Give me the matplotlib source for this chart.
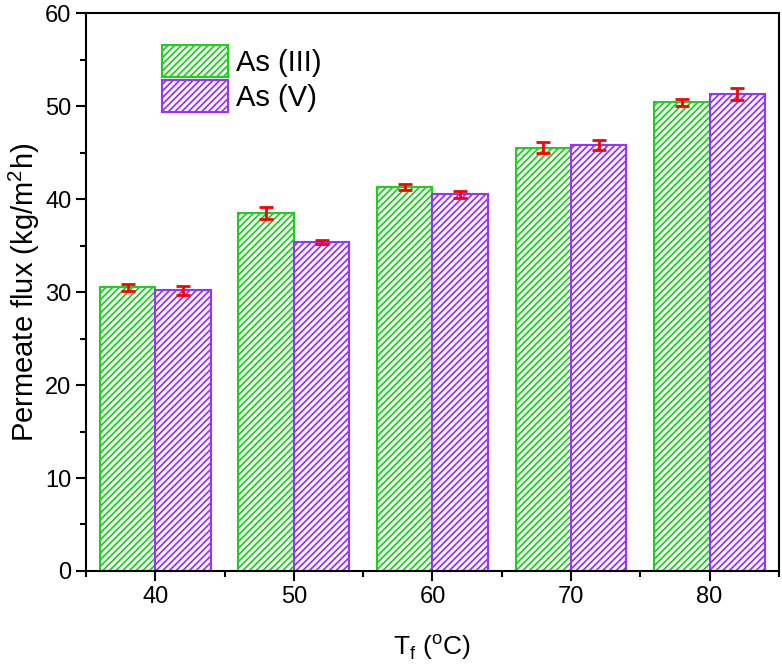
import numpy as np
import matplotlib
matplotlib.use("Agg")
import matplotlib.pyplot as plt
from matplotlib.ticker import MultipleLocator

plt.rcParams['font.family'] = ['Liberation Sans', 'DejaVu Sans']
plt.rcParams['hatch.linewidth'] = 1.3

# Data
temps = [40, 50, 60, 70, 80]
as3_flux = [30.5, 38.5, 41.3, 45.5, 50.4]
as3_err = [0.4, 0.6, 0.3, 0.6, 0.4]
as5_flux = [30.2, 35.4, 40.5, 45.8, 51.3]
as5_err = [0.5, 0.2, 0.4, 0.5, 0.6]

green = '#1ED01E'
purple = '#9B30FF'
x = np.array(temps)
w = 4

fig = plt.figure(figsize=(7.82, 6.69), dpi=100)
ax = fig.add_axes([0.110, 0.1465, 0.886, 0.834])

ax.bar(x - w / 2, as3_flux, width=w, facecolor='white', edgecolor=green,
       hatch='/////', linewidth=1.5, label='As (III)')
ax.bar(x + w / 2, as5_flux, width=w, facecolor='white', edgecolor=purple,
       hatch='/////', linewidth=1.5, label='As (V)')
ax.errorbar(x - w / 2, as3_flux, yerr=as3_err, fmt='none', ecolor='red',
            elinewidth=2, capsize=5, capthick=2)
ax.errorbar(x + w / 2, as5_flux, yerr=as5_err, fmt='none', ecolor='red',
            elinewidth=2, capsize=5, capthick=2)

ax.set_xlim(35, 85)
ax.set_ylim(0, 60)
ax.set_xticks(temps)
ax.xaxis.set_minor_locator(MultipleLocator(5))
ax.yaxis.set_major_locator(MultipleLocator(10))
ax.yaxis.set_minor_locator(MultipleLocator(5))
ax.tick_params(which='major', direction='out', length=7, width=1.5, labelsize=17)
ax.tick_params(which='minor', direction='out', length=4, width=1.5)
for s in ax.spines.values():
    s.set_linewidth(1.5)

ax.set_xlabel(r'T$_\mathregular{f}$ ($^\mathregular{o}$C)', fontsize=19, labelpad=18)
ax.set_ylabel(r'Permeate flux (kg/m$^\mathregular{2}$h)', fontsize=21, labelpad=2)

ax.legend(loc='upper left', bbox_to_anchor=(0.110, 0.942), frameon=False,
          fontsize=21, handlelength=2.24, handleheight=1.3, handletextpad=0.28,
          labelspacing=0.1, borderaxespad=0, borderpad=0)

fig.savefig('out.png', dpi=100)
